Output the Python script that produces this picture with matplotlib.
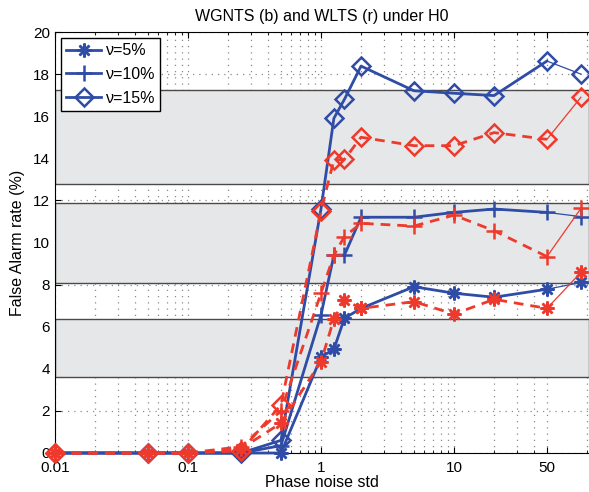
import numpy as np
import matplotlib
matplotlib.use("Agg")
from matplotlib import pyplot as plt
from matplotlib.ticker import FixedLocator, NullFormatter

plt.rcParams['font.family'] = ['Liberation Sans', 'DejaVu Sans']

# phase noise std values
x = [0.01, 0.05, 0.1, 0.25, 0.5, 1, 1.25, 1.5, 2, 5, 10, 20, 50]
x_last = 90

# WGNTS (blue)
b5 = [0, 0, 0, 0, 0, 4.55, 4.93, 6.4, 6.87, 7.9, 7.59, 7.4, 7.78]
b10 = [0, 0, 0, 0, 0.35, 6.56, 9.4, 9.4, 11.2, 11.2, 11.43, 11.59, 11.43]
b15 = [0, 0, 0, 0, 0.6, 11.6, 15.9, 16.8, 18.38, 17.21, 17.09, 16.98, 18.62]
b_last = [8.1, 11.23, 18.0]

# WLTS (red)
r5 = [0, 0, 0, 0.2, 1.42, 4.34, 6.37, 7.27, 6.87, 7.19, 6.6, 7.3, 6.87]
r10 = [0, 0, 0, 0.3, 2.0, 7.59, 9.4, 10.28, 10.91, 10.78, 11.3, 10.56, 9.33]
r15 = [0, 0, 0, 0.1, 2.28, 11.5, 13.92, 13.95, 15.0, 14.6, 14.6, 15.22, 14.9]
r_last = [8.58, 11.62, 16.9]

# confidence bands around nominal levels
bands = [(3.63, 6.35), (8.09, 11.89), (12.78, 17.24)]

labels = ["\u03bd=5%", "\u03bd=10%", "\u03bd=15%"]
markers = [(8, 2, 0), '+', 'D']
msizes = [10, 11, 9]
blue = '#2f4ca6'
red = '#ee3a2c'

fig = plt.figure(figsize=(5.89, 4.92), dpi=100)
ax = fig.add_axes([55 / 589, 39 / 492, 534 / 589, 421 / 492])

xmax = 0.01 * 10 ** (534 / 133)
ax.set_xscale('log')
ax.set_xlim(0.01, xmax)
ax.set_ylim(0, 20)

# grid
minor = [m * 10.0 ** e for e in range(-2, 2) for m in range(2, 10)]
minor = [v for v in minor if v <= 40] + [100]
ax.xaxis.set_minor_locator(FixedLocator(minor))
ax.xaxis.set_minor_formatter(NullFormatter())
ax.set_xticks([0.01, 0.1, 1, 10, 50])
ax.set_xticklabels(['0.01', '0.1', '1', '10', '50'])
ax.set_yticks(np.arange(0, 21, 2))
gstyle = dict(linestyle=(0, (1, 4)), color='#8a8a8a', linewidth=0.9)
ax.grid(True, which='both', axis='x', **gstyle)
ax.grid(True, which='major', axis='y', **gstyle)
ax.set_axisbelow(True)

for lo, hi in bands:
    ax.axhspan(lo, hi, facecolor='#e6e7e9', edgecolor='#4a4a4a', linewidth=1.0, zorder=1.5)

blues = [b5, b10, b15]
reds = [r5, r10, r15]
for i in range(3):
    ax.plot(x, blues[i], color=blue, lw=2, marker=markers[i], ms=msizes[i],
            mew=1.8, mfc='none', label=labels[i], zorder=3, clip_on=False)
    ax.plot([x[-1], x_last], [blues[i][-1], b_last[i]], color=blue, lw=0.9, zorder=3)
    ax.plot([x_last], [b_last[i]], color=blue, marker=markers[i], ms=msizes[i],
            mew=1.8, mfc='none', zorder=3, clip_on=False)
for i in range(3):
    ax.plot(x, reds[i], color=red, lw=2, ls=(0, (3.5, 2.5)), marker=markers[i], ms=msizes[i],
            mew=1.8, mfc='none', zorder=4, clip_on=False)
    ax.plot([x[-1], x_last], [reds[i][-1], r_last[i]], color=red, lw=0.9, zorder=4)
    ax.plot([x_last], [r_last[i]], color=red, marker=markers[i], ms=msizes[i],
            mew=1.8, mfc='none', zorder=4, clip_on=False)

ax.tick_params(which='both', direction='in', top=True, right=False, labelsize=11)
ax.tick_params(which='major', length=4)
ax.tick_params(axis='x', which='major', pad=6)
ax.tick_params(which='minor', length=2)
ax.spines['right'].set_visible(False)

ax.set_title('WGNTS (b) and WLTS (r) under H0', fontsize=11.5, pad=8)
ax.set_xlabel('Phase noise std', fontsize=11.5, labelpad=0)
ax.set_ylabel('False Alarm rate (%)', fontsize=11.5, labelpad=6)

leg = ax.legend(loc='upper left', fontsize=11.5, fancybox=False, framealpha=1,
                edgecolor='black', borderaxespad=0.4, handlelength=2.2,
                handletextpad=0.3, labelspacing=0.55, borderpad=0.3)
leg.get_frame().set_linewidth(1.0)
leg.set_zorder(10)

fig.savefig('out.png', dpi=100)
